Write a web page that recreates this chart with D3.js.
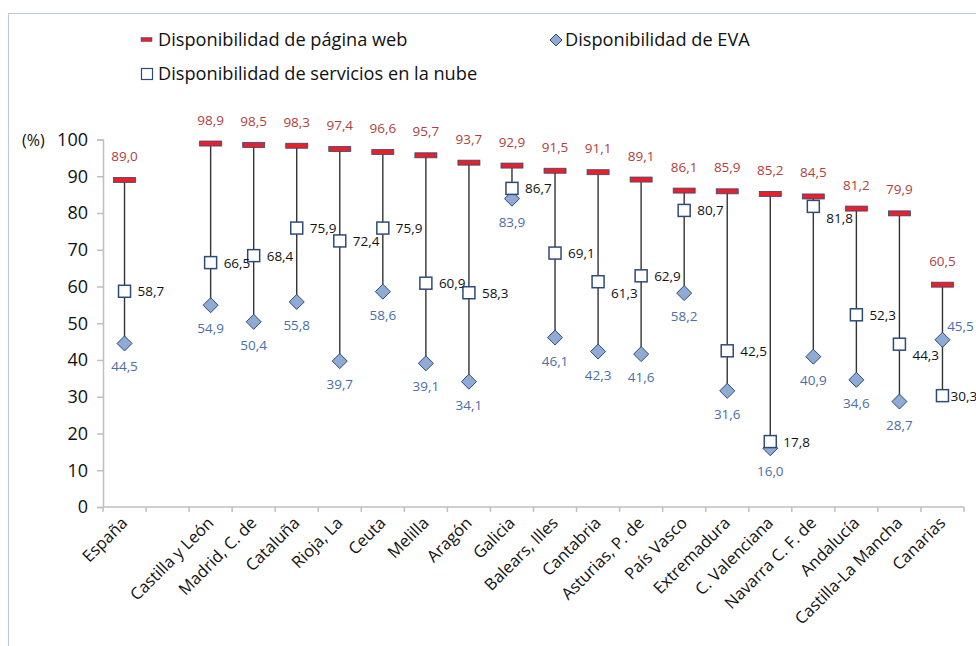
<!DOCTYPE html>
<html><head><meta charset="utf-8">
<script src="https://cdn.jsdelivr.net/npm/d3@7"></script>
<style>body{margin:0;background:#fff}svg{display:block;font-family:"Open Sans",sans-serif}</style>
</head><body><svg id="c" width="976" height="646"></svg>
<script>
const categories = ["España","","Castilla y León","Madrid, C. de","Cataluña","Rioja, La","Ceuta","Melilla","Aragón","Galicia","Balears, Illes","Cantabria","Asturias, P. de","País Vasco","Extremadura","C. Valenciana","Navarra C. F. de","Andalucía","Castilla-La Mancha","Canarias"];
const webValues  = [89.0,null,98.9,98.5,98.3,97.4,96.6,95.7,93.7,92.9,91.5,91.1,89.1,86.1,85.9,85.2,84.5,81.2,79.9,60.5];
const evaValues  = [44.5,null,54.9,50.4,55.8,39.7,58.6,39.1,34.1,83.9,46.1,42.3,41.6,58.2,31.6,16.0,40.9,34.6,28.7,45.5];
const nubeValues = [58.7,null,66.5,68.4,75.9,72.4,75.9,60.9,58.3,86.7,69.1,61.3,62.9,80.7,42.5,17.8,81.8,52.3,44.3,30.3];
const yTicks = [0,10,20,30,40,50,60,70,80,90,100];
const seriesNames = ["Disponibilidad de página web","Disponibilidad de EVA","Disponibilidad de servicios en la nube"];

const fmt = v => v.toFixed(1).replace(".", ",");
const svg = d3.select("#c");
const C = {web:"#E8202A", navy:"#2E4A78", eva:"#8FAAD3", evaTxt:"#4A6EA8", webTxt:"#B0413E", axis:"#BFBFBF"};

// frame
svg.append("path").attr("d","M8.5,660V13.5H990").attr("fill","none").attr("stroke","#B9C9E2").attr("stroke-width",1);

const x = d3.scaleBand().domain(d3.range(categories.length)).range([103,964]).padding(0);
const y = d3.scaleLinear().domain([0,100]).range([507,139.5]);
const cx = i => x(i) + x.bandwidth()/2;

// y axis
const ya = svg.append("g").attr("transform","translate(103,0)")
  .call(d3.axisLeft(y).tickValues(yTicks).tickSize(6).tickPadding(9).tickFormat(d3.format("d")));
ya.attr("font-size",18).attr("font-family","Open Sans");
ya.select(".domain").attr("stroke",C.axis).attr("stroke-width",1.5);
ya.selectAll(".tick line").attr("stroke",C.axis).attr("stroke-width",1.5);
ya.selectAll(".tick text").attr("font-size",18).attr("fill","#111");
svg.append("text").attr("x",22).attr("y",146).attr("font-size",16).attr("fill","#111").text("(%)");

// x axis
const xa = svg.append("g").attr("transform","translate(0,507)");
xa.append("line").attr("x1",103).attr("x2",964).attr("stroke",C.axis).attr("stroke-width",1.5);
xa.selectAll("line.t").data(d3.range(categories.length+1)).join("line")
  .attr("x1",i=>103+i*x.bandwidth()).attr("x2",i=>103+i*x.bandwidth())
  .attr("y1",0).attr("y2",5).attr("stroke",C.axis).attr("stroke-width",1.5);
xa.selectAll("text").data(categories).join("text")
  .attr("transform",(d,i)=>`translate(${cx(i)+4},${17}) rotate(-45)`)
  .attr("text-anchor","end").attr("font-size",16.5).attr("fill","#111").text(d=>d);

const idx = d3.range(categories.length).filter(i => webValues[i] !== null);

// high-low lines
svg.append("g").selectAll("line").data(idx).join("line")
  .attr("x1",cx).attr("x2",cx)
  .attr("y1",i=>y(Math.max(webValues[i],evaValues[i],nubeValues[i])))
  .attr("y2",i=>y(Math.min(webValues[i],evaValues[i],nubeValues[i])))
  .attr("stroke","#333").attr("stroke-width",1.4);

// diamonds (EVA)
const ds = 7.5;
svg.append("g").selectAll("path").data(idx).join("path")
  .attr("d",i=>`M${cx(i)},${y(evaValues[i])-ds}l${ds},${ds}l${-ds},${ds}l${-ds},${-ds}z`)
  .attr("fill",C.eva).attr("stroke",C.navy).attr("stroke-width",1);

// squares (nube)
svg.append("g").selectAll("rect").data(idx).join("rect")
  .attr("x",i=>cx(i)-6).attr("y",i=>y(nubeValues[i])-6).attr("width",12).attr("height",12)
  .attr("fill","#fff").attr("stroke",C.navy).attr("stroke-width",1.5);

// web bars
svg.append("g").selectAll("rect").data(idx).join("rect")
  .attr("x",i=>cx(i)-11).attr("y",i=>y(webValues[i])-2.5).attr("width",22).attr("height",5)
  .attr("fill",C.web).attr("stroke",C.navy).attr("stroke-width",0.8);

// labels
const lab = svg.append("g").attr("font-size",13.5);
lab.selectAll("text.w").data(idx).join("text").attr("class","w")
  .attr("x",cx).attr("y",i=>y(webValues[i])-19).attr("text-anchor","middle")
  .attr("fill",C.webTxt).text(i=>fmt(webValues[i]));

// label nudges (style only)
const nubeDy = {11:11, 16:12, 18:11};
const nubeDx = {19:-5};
lab.selectAll("text.n").data(idx).join("text").attr("class","n")
  .attr("x",i=>cx(i)+13+(nubeDx[i]||0)).attr("y",i=>y(nubeValues[i])+5+(nubeDy[i]||0))
  .attr("fill","#111").text(i=>fmt(nubeValues[i]));

lab.selectAll("text.e").data(idx).join("text").attr("class","e")
  .attr("x",i=> i===19 ? cx(i)+18 : cx(i))
  .attr("y",i=> i===19 ? y(evaValues[i])-9 : y(evaValues[i])+28)
  .attr("text-anchor","middle").attr("fill",C.evaTxt).text(i=>fmt(evaValues[i]));

// legend
const lg = svg.append("g").attr("font-size",18.2).attr("fill","#111");
lg.append("rect").attr("x",141).attr("y",37.5).attr("width",11).attr("height",4).attr("fill",C.web).attr("stroke",C.navy).attr("stroke-width",0.5);
lg.append("text").attr("x",158).attr("y",46).text(seriesNames[0]);
lg.append("path").attr("d","M556,34l6,6l-6,6l-6,-6z").attr("fill",C.eva).attr("stroke",C.navy).attr("stroke-width",1);
lg.append("text").attr("x",565).attr("y",46).text(seriesNames[1]);
lg.append("rect").attr("x",141.5).attr("y",68.5).attr("width",11).attr("height",11).attr("fill","#fff").attr("stroke",C.navy).attr("stroke-width",1.2);
lg.append("text").attr("x",158).attr("y",80).text(seriesNames[2]);
</script></body></html>
